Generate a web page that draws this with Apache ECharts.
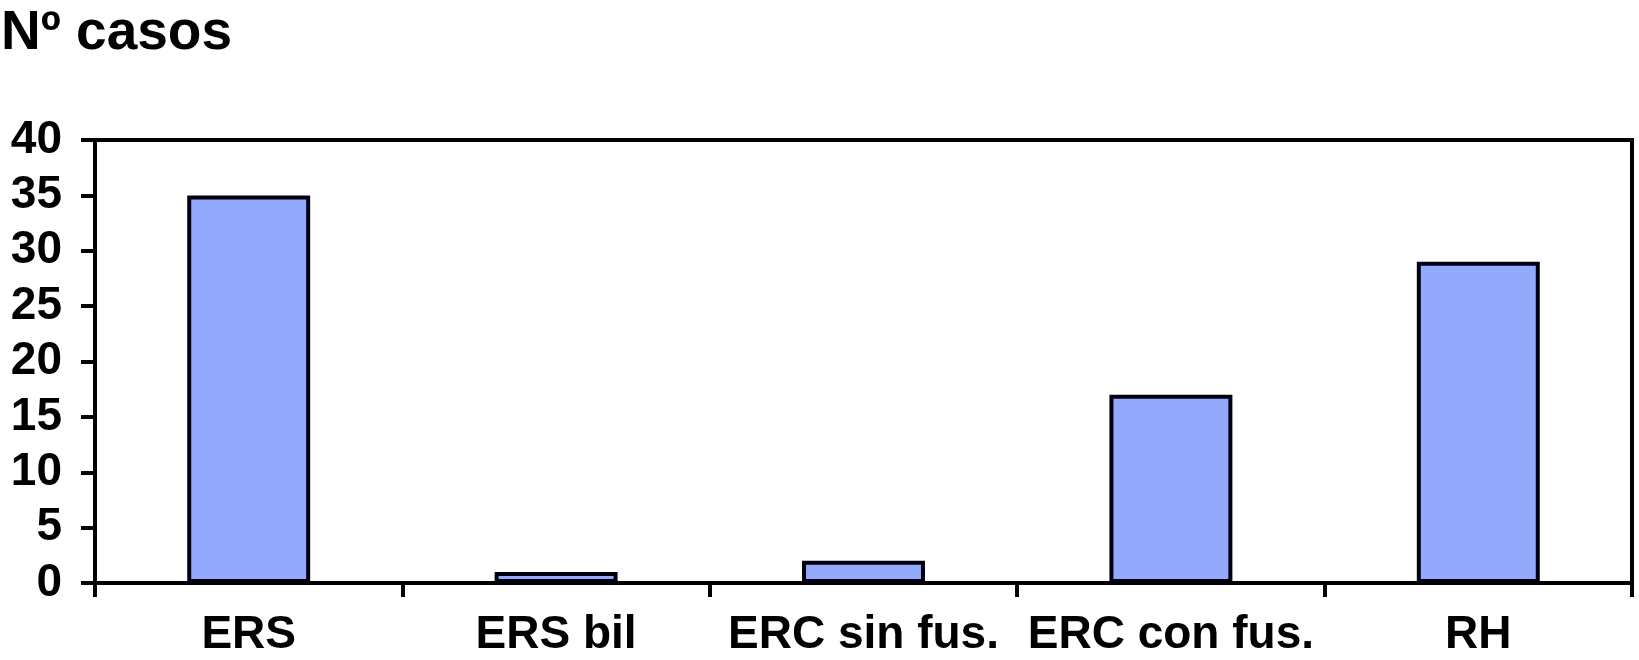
<!DOCTYPE html>
<html><head><meta charset="utf-8">
<script src="https://cdn.jsdelivr.net/npm/echarts@6/dist/echarts.min.js"></script>
<style>html,body{margin:0;padding:0;background:#fff}#c{width:1639px;height:660px}</style>
</head><body><div id="c"></div>
<script>
const categories = ['ERS', 'ERS bil', 'ERC sin fus.', 'ERC con fus.', 'RH'];
const casos = [35, 1, 2, 17, 29];
const yTicks = [0, 5, 10, 15, 20, 25, 30, 35, 40];
const titleText = 'Nº casos';

const font = '"Liberation Sans", Arial, Helvetica, sans-serif';
const chart = echarts.init(document.getElementById('c'), null, {renderer: 'canvas'});
chart.setOption({
  backgroundColor: '#fff',
  animation: false,
  title: {
    text: titleText, left: 1, top: 6, padding: 0,
    textStyle: {fontFamily: font, fontWeight: 'bold', fontSize: 55, color: '#000'}
  },
  grid: {left: 95, right: 7, top: 140, bottom: 77, show: true, borderColor: '#000', borderWidth: 4, backgroundColor: 'transparent'},
  xAxis: {
    type: 'category', data: categories,
    axisLine: {lineStyle: {color: '#000', width: 4}},
    axisTick: {show: true, length: 14, lineStyle: {color: '#000', width: 4}},
    axisLabel: {fontFamily: font, fontWeight: 'bold', fontSize: 46, color: '#000', margin: 29, interval: 0}
  },
  yAxis: {
    type: 'value', min: yTicks[0], max: yTicks[yTicks.length - 1], interval: 5,
    axisLine: {show: true, lineStyle: {color: '#000', width: 4}},
    axisTick: {show: true, length: 14, lineStyle: {color: '#000', width: 4}},
    splitLine: {show: false},
    axisLabel: {fontFamily: font, fontWeight: 'bold', fontSize: 46, color: '#000', margin: 33}
  },
  series: [{
    type: 'bar', data: casos, barWidth: '40%',
    itemStyle: {color: '#93A9FC', borderColor: '#000010', borderWidth: 4}
  }]
});
</script></body></html>
